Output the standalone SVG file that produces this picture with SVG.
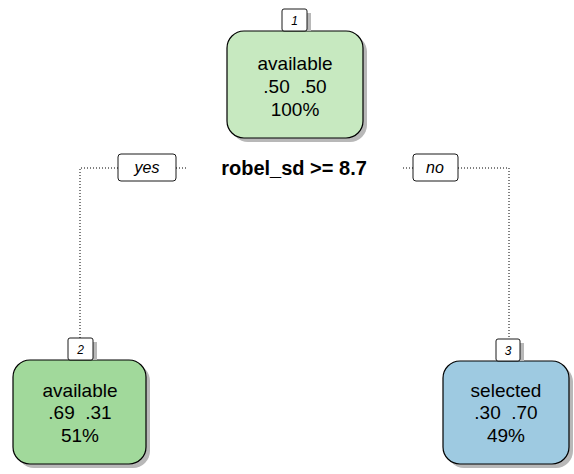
<svg xmlns="http://www.w3.org/2000/svg" width="574" height="474" viewBox="0 0 574 474">
<style>
.node{stroke:#000;stroke-width:1.2}
.shadow{fill:#b8b8b8}
.lbl{fill:#fff;stroke:#000;stroke-width:0.9}
.t{font-family:"Liberation Sans",Arial,sans-serif;font-size:19px;fill:#000;text-anchor:middle;white-space:pre}
.it{font-family:"Liberation Sans",Arial,sans-serif;font-size:16px;font-style:italic;fill:#000;text-anchor:middle}
.num{font-family:"Liberation Sans",Arial,sans-serif;font-size:12px;font-style:italic;fill:#000;text-anchor:middle}
.split{font-family:"Liberation Sans",Arial,sans-serif;font-size:20px;font-weight:bold;fill:#000;text-anchor:middle}
.dot{fill:none;stroke:#000;stroke-width:1;stroke-dasharray:1 2}
</style>
<rect width="574" height="474" fill="#fff"/>
<g id="connectors">
<path class="dot" d="M118 168 H80 V338"/>
<path class="dot" d="M176 168 H187"/>
<path class="dot" d="M403 168 H413"/>
<path class="dot" d="M458 168 H509 V339"/>
<g id="yes">
<rect class="lbl" x="118" y="154" width="58" height="27" rx="3"/>
<text class="it" x="147" y="173">yes</text>
</g>
<g id="no">
<rect class="lbl" x="413" y="154" width="45" height="27" rx="3"/>
<text class="it" x="435" y="173">no</text>
</g>
<text class="split" x="294" y="175">robel_sd &gt;= 8.7</text>
</g>
<g id="node1">
<rect class="shadow" x="231" y="35" width="136" height="107" rx="17"/>
<rect class="node" x="227" y="31" width="136" height="107" rx="17" fill="#c7e9c0"/>
<rect class="shadow" x="286" y="13" width="25" height="18"/>
<rect class="lbl" x="282" y="9" width="25" height="22" rx="2"/>
<text class="num" x="294.5" y="25">1</text>
<text class="t" x="295" y="70">available</text>
<text class="t" x="295" y="93">.50  .50</text>
<text class="t" x="295" y="116">100%</text>
</g>
<g id="node2">
<rect class="shadow" x="17" y="364" width="133" height="104" rx="17"/>
<rect class="node" x="13" y="360" width="133" height="104" rx="17" fill="#a1d99b"/>
<rect class="shadow" x="72" y="342" width="25" height="18"/>
<rect class="lbl" x="68" y="338" width="25" height="22" rx="2"/>
<text class="num" x="80.5" y="354">2</text>
<text class="t" x="80" y="397">available</text>
<text class="t" x="80" y="419">.69  .31</text>
<text class="t" x="80" y="442">51%</text>
</g>
<g id="node3">
<rect class="shadow" x="447" y="365" width="126" height="103" rx="17"/>
<rect class="node" x="443" y="361" width="126" height="103" rx="17" fill="#9ecae1"/>
<rect class="shadow" x="500" y="343" width="24" height="18"/>
<rect class="lbl" x="496" y="339" width="24" height="22" rx="2"/>
<text class="num" x="508" y="355">3</text>
<text class="t" x="506" y="397">selected</text>
<text class="t" x="506" y="419">.30  .70</text>
<text class="t" x="506" y="442">49%</text>
</g>
</svg>
